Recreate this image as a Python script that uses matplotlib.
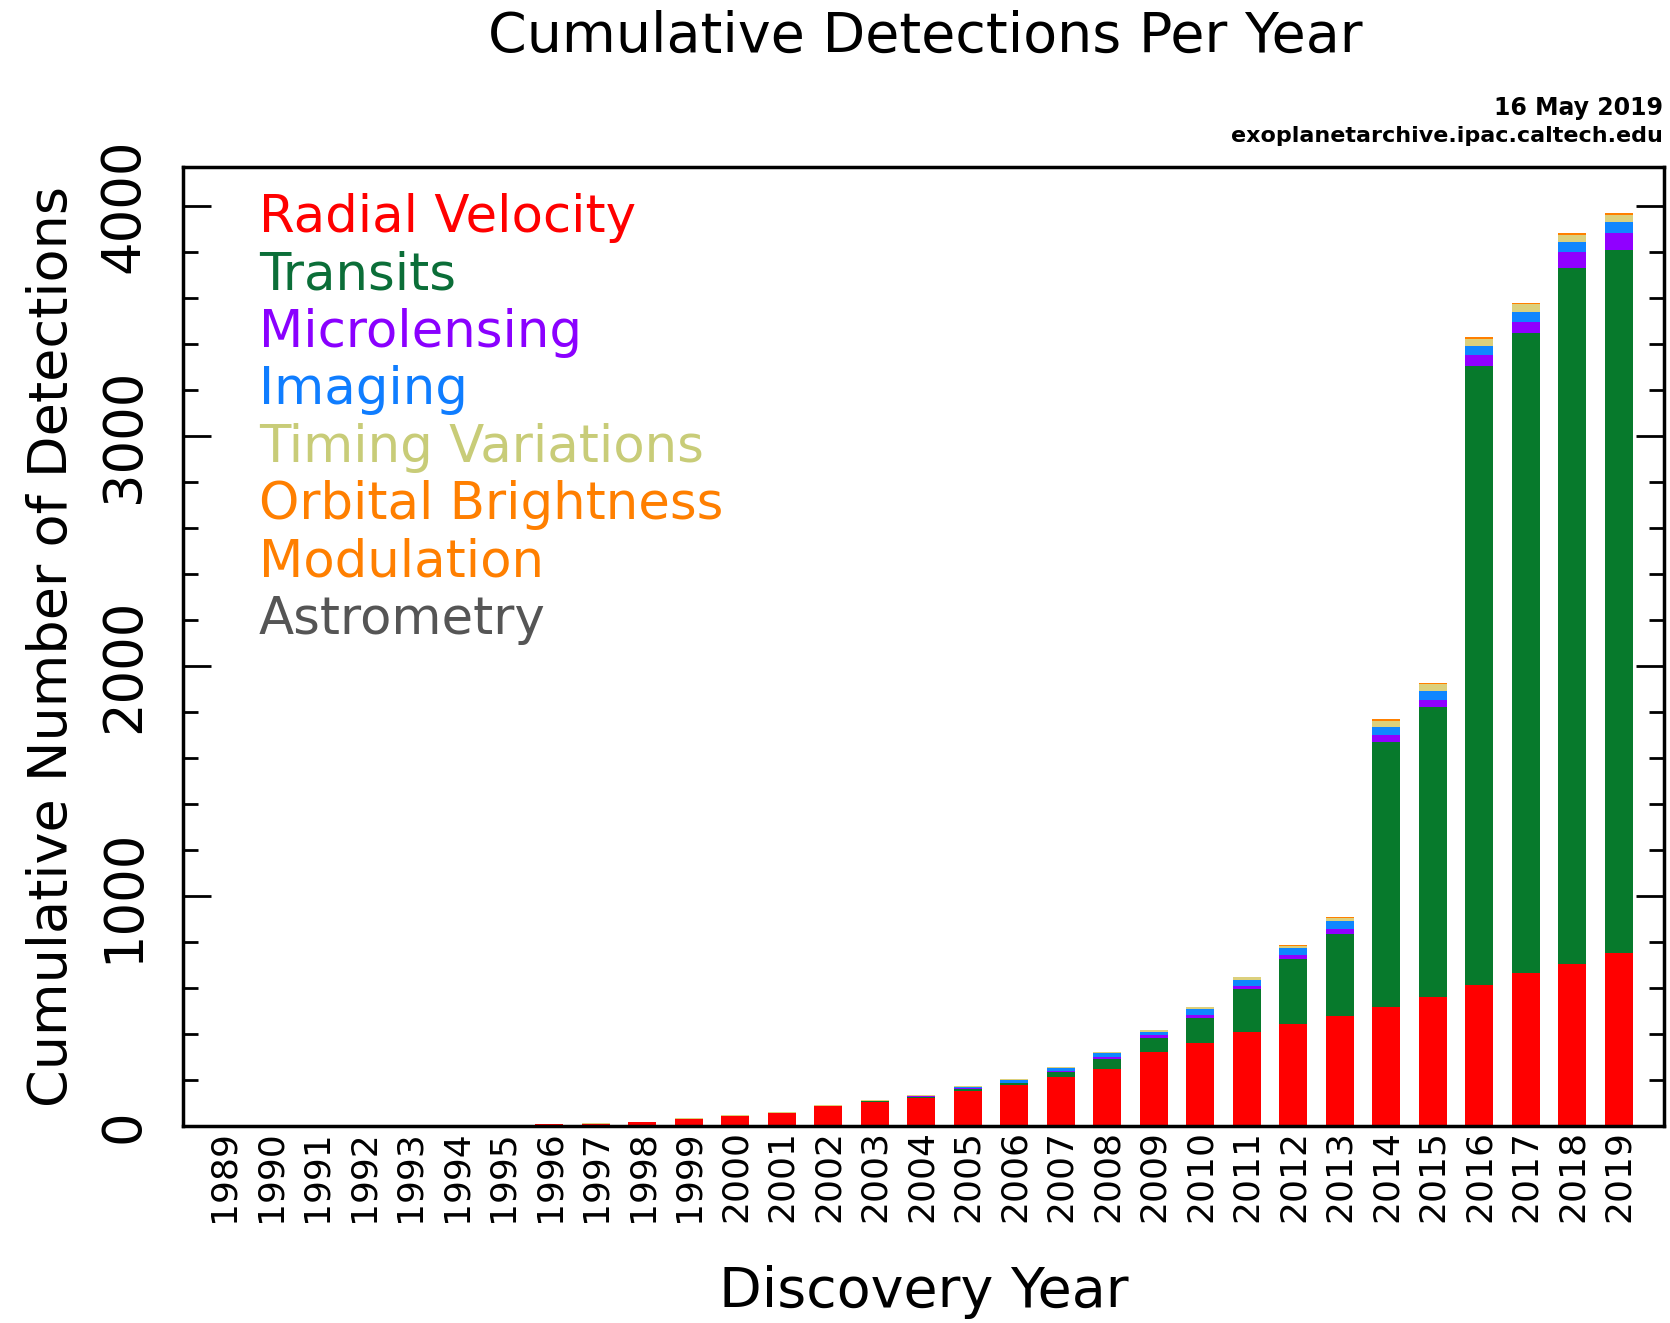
"""
Cumulative exoplanet detections per year, stacked by discovery method
(NASA Exoplanet Archive style chart, 16 May 2019).
"""

import matplotlib
matplotlib.use("Agg")
import matplotlib.pyplot as plt
import numpy as np

years = list(range(1989, 2020))

# cumulative counts per method
radial_velocity = [1, 1, 1, 1, 1, 1, 2, 7, 8, 16, 30, 45, 58, 87, 106, 123,
                   154, 178, 212, 250, 323, 362, 410, 443, 477, 516, 562, 613,
                   664, 704, 751]
transits = [0, 0, 0, 0, 0, 0, 0, 0, 0, 0, 0, 0, 0, 1, 2, 5,
            6, 7, 24, 43, 60, 109, 184, 282, 356, 1155, 1258, 2693,
            2782, 3025, 3058]
microlensing = [0, 0, 0, 0, 0, 0, 0, 0, 0, 0, 0, 0, 0, 0, 0, 2,
                4, 4, 4, 8, 11, 12, 15, 18, 24, 29, 32, 45,
                51, 70, 75]
imaging = [0, 0, 0, 0, 0, 0, 0, 0, 0, 0, 0, 0, 0, 0, 0, 2,
           6, 10, 12, 15, 16, 24, 28, 29, 33, 37, 40, 42,
           44, 45, 46]
timing_variations = [0, 0, 0, 2, 2, 3, 3, 3, 3, 3, 3, 3, 3, 3, 4, 4,
                     4, 4, 4, 6, 6, 9, 11, 12, 14, 26, 28, 30,
                     31, 32, 33]
orbital_brightness = [0, 0, 0, 0, 0, 0, 0, 0, 0, 0, 0, 0, 0, 0, 0, 0,
                      0, 0, 0, 0, 0, 0, 2, 3, 5, 6, 6, 6,
                      6, 6, 6]
astrometry = [0, 0, 0, 0, 0, 0, 0, 0, 0, 0, 0, 0, 0, 0, 0, 0,
              0, 0, 0, 0, 0, 0, 0, 0, 1, 1, 1, 1,
              1, 1, 1]

methods = ["Radial Velocity", "Transits", "Microlensing", "Imaging",
           "Timing Variations", "Orbital Brightness", "Modulation", "Astrometry"]
bar_colors = ["#ff0000", "#077a2c", "#9000ff", "#0f86ff",
              "#dcd07c", "#ff8000", "#555555"]
text_colors = ["#ff0000", "#0b6e38", "#8a00ff", "#0f7dff",
               "#c8cc78", "#ff7f00", "#ff7f00", "#555555"]

series = [radial_velocity, transits, microlensing, imaging,
          timing_variations, orbital_brightness, astrometry]

plt.rcParams["font.family"] = ["DejaVu Sans"]

fig = plt.figure(figsize=(16.70, 13.23), dpi=100)
ax = fig.add_axes([0.1096, 0.1489, 0.8868, 0.7249])

x = np.array(years)
bottom = np.zeros(len(years))
for vals, col in zip(series, bar_colors):
    vals = np.array(vals, dtype=float)
    ax.bar(x, vals, width=0.6, bottom=bottom, color=col, linewidth=0)
    bottom += vals

ax.set_xlim(1988.12, 2019.97)
ax.set_ylim(0, 4170)

ax.set_xticks(years)
ax.set_xticklabels([str(y) for y in years], rotation=90, fontsize=26)
ax.tick_params(axis="x", length=0, pad=3)

ax.set_yticks([0, 1000, 2000, 3000, 4000])
ax.set_yticks(np.arange(0, 4170, 200), minor=True)
ax.set_yticklabels(["0", "1000", "2000", "3000", "4000"], rotation=90,
                   va="center", fontsize=38)
ax.tick_params(axis="y", which="major", direction="in", length=20, width=2,
               left=True, right=True, pad=24)
ax.tick_params(axis="y", which="minor", direction="in", length=11, width=2,
               left=True, right=True)

for s in ax.spines.values():
    s.set_linewidth(2.5)

ax.set_xlabel("Discovery Year", fontsize=40, labelpad=31)
ax.set_ylabel("Cumulative Number of Detections", fontsize=39, labelpad=14)

fig.text(0.554, 0.972, "Cumulative Detections Per Year", fontsize=40,
         ha="center", va="center")
fig.text(0.996, 0.918, "16 May 2019", fontsize=17, fontweight="bold",
         ha="right", va="center")
fig.text(0.996, 0.897, "exoplanetarchive.ipac.caltech.edu", fontsize=16,
         fontweight="bold", ha="right", va="center")

# legend as coloured labels
for i, (name, col) in enumerate(zip(methods, text_colors)):
    y_px = 218 + i * 57.4
    fig.text(259 / 1670, 1 - y_px / 1323, name, color=col, fontsize=37,
             ha="left", va="center")

fig.savefig("out.png", dpi=100, facecolor="white")
